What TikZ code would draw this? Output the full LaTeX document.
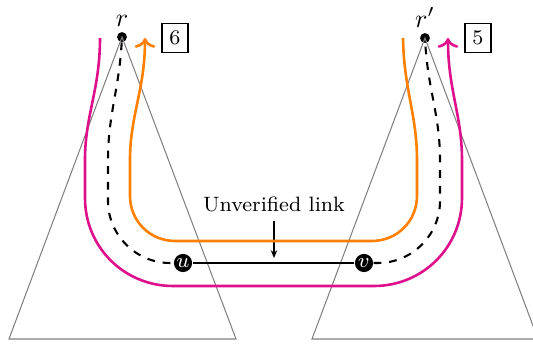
\documentclass[tikz,border=0pt]{standalone}
\usetikzlibrary{arrows.meta}
\definecolor{arancio}{RGB}{255,128,0}
\definecolor{rosa}{RGB}{222,16,140}
\begin{document}
\begin{tikzpicture}[x=0.385pt,y=-0.385pt,
  radice/.style={circle,fill=black,inner sep=0pt,minimum size=3.8pt},
  estremo/.style={circle,fill=black,text=white,inner sep=0.3pt,minimum size=7pt,font=\footnotesize},
  passo/.style={draw,semithick,inner sep=2.8pt,font=\footnotesize},
  albero/.style={gray},
  cammino/.style={line width=1pt,->}]
\useasboundingbox (0,0) rectangle (533,344);
% radici
\node[radice,label={[label distance=-1.5pt]above:$r$}] (r) at (122,37) {};
\node[radice,label={[label distance=-1.5pt]above:$r'$}] (rp) at (425,38) {};
\node[passo] (n6) at (175,38) {6};
\node[passo] (n5) at (478,38) {5};
% alberi
\draw[albero] (r.center) -- (9,339) -- (236,339) -- cycle;
\begin{scope}
\clip (300,30) rectangle (533,344);
\draw[albero] (rp.center) -- (312,339) -- (538,339) -- cycle;
\end{scope}
% link
\node[estremo] (u) at (183,263) {$u$};
\node[estremo] (v) at (364,263) {$v$};
\draw[thick] (u) -- (v);
\node[font=\footnotesize] (unv) at (274,204) {Unverified link};
\coordinate (punta) at (274,258);
\draw[-{Stealth[length=3pt,width=2.5pt]}] (unv) -- (punta);
% percorsi tratteggiati
\draw[thick,dashed] (r) .. controls (119,90) and (108,115) .. (108,160) -- (108,201)
  .. controls (108,235) and (136,263) .. (170,263) -- (u);
\draw[thick,dashed] (v) -- (378,263) .. controls (412,263) and (440,235) .. (440,201)
  -- (440,160) .. controls (440,115) and (428,90) .. (rp);
% percorso arancio
\draw[cammino,arancio] (403,38) .. controls (404,90) and (417,115) .. (417,160) -- (417,196)
  .. controls (417,221) and (397,241) .. (372,241) -- (175,241)
  .. controls (150,241) and (130,221) .. (130,196) -- (130,160)
  .. controls (130,115) and (145,90) .. (145,38);
% percorso rosa
\draw[cammino,rosa] (100,38) .. controls (100,90) and (85,115) .. (85,160) -- (85,198)
  .. controls (85,247) and (124,286) .. (173,286) -- (374,286)
  .. controls (423,286) and (462,247) .. (462,198) -- (462,160)
  .. controls (462,115) and (448,90) .. (448,38);
\end{tikzpicture}
\end{document}
